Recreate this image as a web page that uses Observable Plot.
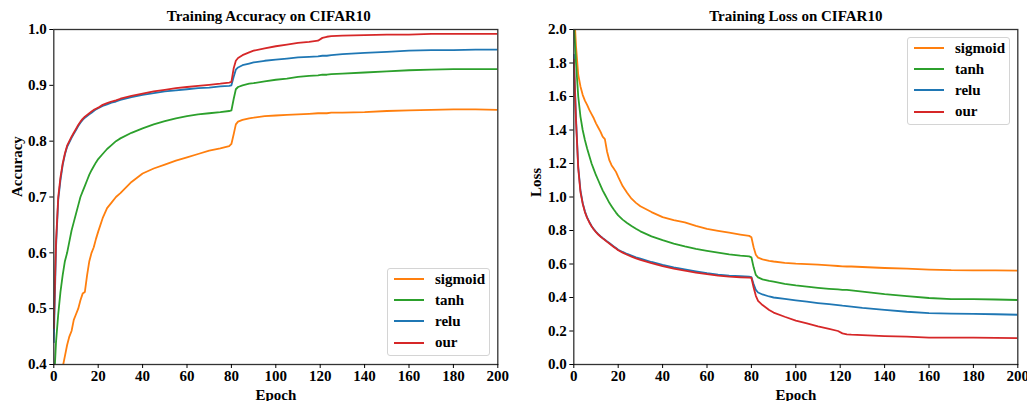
<!DOCTYPE html>
<html><head><meta charset="utf-8">
<script src="https://cdn.jsdelivr.net/npm/d3@7"></script>
<script src="https://cdn.jsdelivr.net/npm/@observablehq/plot@0.6"></script>
<style>
html,body{margin:0;padding:0;background:#fff;}
#wrap{position:relative;width:1027px;height:401px;overflow:hidden;font-family:"Liberation Serif","Times New Roman",serif;font-weight:bold;}
.panel{position:absolute;top:0;}
.legend{position:absolute;border:1px solid #d4d4d4;border-radius:3px;background:rgba(255,255,255,0.85);width:103px;height:88px;box-sizing:border-box;}
.legend .sw{position:absolute;left:6px;width:30px;height:0;border-top:2px solid;}
.legend .lb{position:absolute;left:47px;font-size:15px;line-height:16px;height:16px;color:#000;}
</style>
</head><body>
<div id="wrap">
  <div id="left" class="panel" style="left:0px"></div>
  <div id="right" class="panel" style="left:520px"></div>
</div>
<script>
// ---- data ----
const seriesNames = ["sigmoid", "tanh", "relu", "our"];
const seriesColors = ["#ff7f0e", "#2ca02c", "#1f77b4", "#d62728"];
const epochs = [0,1,2,3,4,5,6,7,8,9,10,11,12,13,14,15,16,17,18,19,20,22,24,26,28,30,35,40,45,50,55,60,65,70,75,79,80,81,82,83,85,88,90,95,100,105,110,115,119,121,123,125,130,140,150,160,170,180,190,200];

const accSigmoid = [0.33,0.35,0.36,0.38,0.395,0.415,0.435,0.45,0.46,0.48,0.49,0.50,0.515,0.527,0.53,0.56,0.585,0.60,0.61,0.625,0.638,0.662,0.68,0.69,0.70,0.707,0.727,0.742,0.751,0.758,0.765,0.771,0.777,0.783,0.787,0.791,0.795,0.812,0.83,0.835,0.838,0.841,0.842,0.845,0.846,0.847,0.848,0.849,0.85,0.85,0.85,0.851,0.851,0.852,0.854,0.855,0.856,0.857,0.857,0.856];
const accTanh = [0.36,0.44,0.49,0.53,0.56,0.585,0.60,0.62,0.64,0.655,0.67,0.685,0.70,0.71,0.72,0.73,0.74,0.748,0.755,0.762,0.768,0.777,0.786,0.793,0.80,0.805,0.815,0.823,0.83,0.836,0.841,0.845,0.848,0.85,0.852,0.854,0.855,0.875,0.893,0.897,0.90,0.903,0.904,0.907,0.91,0.912,0.915,0.917,0.918,0.919,0.919,0.92,0.921,0.923,0.925,0.927,0.928,0.929,0.929,0.929];
const accRelu = [0.44,0.61,0.695,0.73,0.757,0.776,0.79,0.798,0.806,0.813,0.82,0.827,0.833,0.838,0.842,0.845,0.848,0.851,0.854,0.857,0.859,0.863,0.866,0.869,0.871,0.874,0.879,0.883,0.886,0.889,0.891,0.893,0.895,0.896,0.898,0.899,0.90,0.915,0.928,0.932,0.936,0.939,0.941,0.944,0.946,0.948,0.950,0.951,0.952,0.953,0.953,0.954,0.956,0.958,0.960,0.962,0.963,0.963,0.964,0.964];
const accOur = [0.465,0.62,0.70,0.735,0.76,0.778,0.792,0.80,0.808,0.815,0.822,0.829,0.835,0.84,0.844,0.847,0.85,0.853,0.856,0.858,0.86,0.865,0.868,0.871,0.873,0.876,0.881,0.885,0.889,0.892,0.895,0.897,0.899,0.901,0.903,0.905,0.906,0.93,0.944,0.949,0.954,0.959,0.962,0.966,0.970,0.973,0.976,0.978,0.980,0.985,0.987,0.988,0.989,0.990,0.991,0.991,0.992,0.992,0.992,0.992];

const lossSigmoid = [2.15,1.9,1.73,1.66,1.61,1.575,1.55,1.52,1.495,1.47,1.44,1.415,1.39,1.36,1.345,1.27,1.22,1.19,1.17,1.15,1.12,1.065,1.025,0.99,0.965,0.945,0.91,0.88,0.862,0.848,0.828,0.81,0.798,0.787,0.776,0.768,0.76,0.70,0.655,0.638,0.628,0.619,0.615,0.607,0.602,0.599,0.596,0.592,0.588,0.586,0.585,0.585,0.582,0.576,0.572,0.567,0.563,0.562,0.562,0.56];
const lossTanh = [2.05,1.8,1.6,1.48,1.40,1.34,1.29,1.245,1.20,1.165,1.13,1.10,1.07,1.04,1.015,0.99,0.965,0.945,0.925,0.907,0.89,0.865,0.845,0.827,0.81,0.795,0.765,0.742,0.722,0.705,0.69,0.679,0.668,0.658,0.65,0.645,0.64,0.58,0.535,0.52,0.508,0.499,0.495,0.482,0.472,0.465,0.458,0.452,0.448,0.446,0.445,0.443,0.435,0.42,0.408,0.397,0.39,0.39,0.388,0.385];
const lossRelu = [1.85,1.47,1.18,1.04,0.965,0.915,0.878,0.852,0.827,0.808,0.792,0.778,0.766,0.755,0.745,0.735,0.725,0.715,0.705,0.695,0.685,0.672,0.66,0.65,0.64,0.632,0.612,0.595,0.58,0.568,0.556,0.545,0.537,0.531,0.527,0.524,0.522,0.48,0.445,0.43,0.418,0.406,0.40,0.392,0.383,0.375,0.367,0.36,0.354,0.351,0.349,0.346,0.338,0.326,0.315,0.307,0.304,0.302,0.300,0.297];
const lossOur = [1.82,1.45,1.17,1.03,0.96,0.91,0.875,0.848,0.825,0.806,0.79,0.776,0.764,0.753,0.743,0.732,0.722,0.712,0.702,0.692,0.682,0.668,0.655,0.644,0.634,0.625,0.605,0.587,0.573,0.56,0.549,0.539,0.531,0.525,0.521,0.519,0.518,0.46,0.41,0.38,0.355,0.325,0.31,0.285,0.262,0.245,0.228,0.213,0.20,0.186,0.18,0.178,0.175,0.17,0.166,0.161,0.16,0.16,0.159,0.158];

const xTicks = [0,20,40,60,80,100,120,140,160,180,200];
const accTicks = [0.4,0.5,0.6,0.7,0.8,0.9,1.0];
const lossTicks = [0.0,0.2,0.4,0.6,0.8,1.0,1.2,1.4,1.6,1.8,2.0];

function toRows(lists) {
  const rows = [];
  lists.forEach((vals, i) => {
    vals.forEach((v, j) => rows.push({series: seriesNames[i], epoch: epochs[j], value: v}));
  });
  return rows;
}
const accRows = toRows([accSigmoid, accTanh, accRelu, accOur]);
const lossRows = toRows([lossSigmoid, lossTanh, lossRelu, lossOur]);

function makePanel(rows, cfg) {
  return Plot.plot({
    width: cfg.width, height: 401,
    marginLeft: 53.3, marginRight: cfg.marginRight, marginTop: 29, marginBottom: 37,
    style: {fontFamily: '"Liberation Serif", "Times New Roman", serif', fontWeight: "bold", fontSize: "15px", color: "#000", background: "transparent", overflow: "visible"},
    x: {domain: [0, 200]},
    y: {domain: cfg.yDomain},
    color: {domain: seriesNames, range: seriesColors},
    marks: [
      Plot.line(rows, {x: "epoch", y: "value", z: "series", stroke: "series", strokeWidth: 1.8, clip: true}),
      Plot.frame({stroke: "#333", strokeWidth: 1.3}),
      Plot.axisX({ticks: xTicks, tickSize: 4, tickPadding: 2, label: null, fontSize: 15}),
      Plot.axisY({ticks: cfg.yTicks, tickFormat: d3.format(".1f"), tickSize: 4, tickPadding: 3, label: null, fontSize: 15}),
      Plot.text([cfg.title], {text: d => d, frameAnchor: "top", dx: cfg.titleDx, dy: -13, lineAnchor: "middle", fontSize: 15, fontWeight: "bold"}),
      Plot.text(["Epoch"], {text: d => d, frameAnchor: "bottom", dy: 25, lineAnchor: "top", fontSize: 15, fontWeight: "bold"}),
      Plot.text([cfg.yLabel], {text: d => d, frameAnchor: "left", dx: cfg.yLabelDx, rotate: -90, lineAnchor: "middle", fontSize: 15, fontWeight: "bold"})
    ]
  });
}

function makeLegend(left, top) {
  const box = document.createElement("div");
  box.className = "legend";
  box.style.left = left + "px";
  box.style.top = top + "px";
  seriesNames.forEach((name, i) => {
    const cy = 10 + i * 21.2;
    const sw = document.createElement("div");
    sw.className = "sw";
    sw.style.top = (cy - 1) + "px";
    sw.style.borderTopColor = seriesColors[i];
    const lb = document.createElement("div");
    lb.className = "lb";
    lb.style.top = (cy - 8.5) + "px";
    lb.textContent = name;
    box.appendChild(sw);
    box.appendChild(lb);
  });
  return box;
}

document.getElementById("left").appendChild(makePanel(accRows, {
  width: 520, marginRight: 22.7, yDomain: [0.4, 1.0], yTicks: accTicks,
  title: "Training Accuracy on CIFAR10", titleDx: -7, yLabel: "Accuracy", yLabelDx: -37
}));
document.getElementById("right").appendChild(makePanel(lossRows, {
  width: 507, marginRight: 9.7, yDomain: [0, 2.0], yTicks: lossTicks,
  title: "Training Loss on CIFAR10", titleDx: 0, yLabel: "Loss", yLabelDx: -38
}));
document.getElementById("wrap").appendChild(makeLegend(387, 268));
document.getElementById("wrap").appendChild(makeLegend(907, 37));
</script>
</body></html>
